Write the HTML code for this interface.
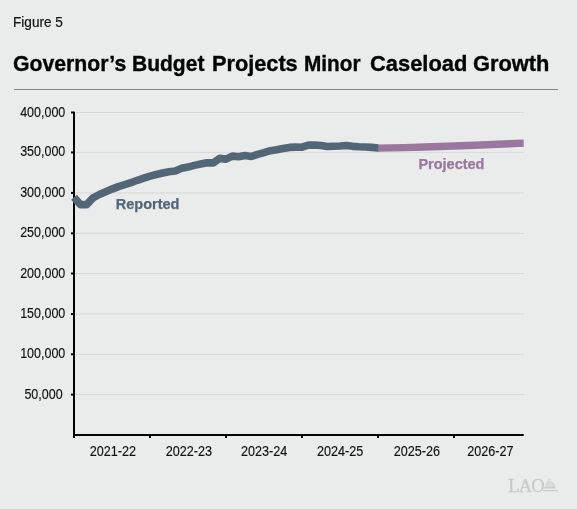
<!DOCTYPE html>
<html><head><meta charset="utf-8"><style>
html,body{margin:0;padding:0;}
body{width:577px;height:509px;background:#eaecec;position:relative;overflow:hidden;font-family:"Liberation Sans",sans-serif;}
.wrap{position:absolute;left:0;top:0;width:577px;height:509px;will-change:transform;}
.fig{position:absolute;left:13px;top:14px;font-size:14px;color:#111;transform-origin:0 0;transform:scaleX(0.972);-webkit-text-stroke:0.2px #111;}
.title{position:absolute;top:51px;font-size:22px;font-weight:bold;color:#000;white-space:nowrap;transform-origin:0 0;-webkit-text-stroke:0.35px #000;}
.rule{position:absolute;left:14px;top:89px;width:544px;height:1px;background:#858685;}
svg{position:absolute;left:0;top:0;}
svg text{font-family:"Liberation Sans",sans-serif;font-size:13.8px;fill:#111;stroke:#111;stroke-width:0.15px;}
</style></head><body>
<div class="wrap"><div class="fig">Figure 5</div>
<div class="title" style="left:12.85px;transform:scaleX(0.9646)">Governor’s</div><div class="title" style="left:131.85px;transform:scaleX(0.9558)">Budget</div><div class="title" style="left:212.45px;transform:scaleX(0.9870)">Projects</div><div class="title" style="left:304.45px;transform:scaleX(0.9440)">Minor</div><div class="title" style="left:369.95px;transform:scaleX(0.9949)">Caseload</div><div class="title" style="left:473.45px;transform:scaleX(0.9919)">Growth</div><div class="rule"></div>
<svg width="577" height="509" viewBox="0 0 577 509">
<line x1="75" y1="394.60" x2="524" y2="394.60" stroke="#d6d8d9" stroke-width="1"/>
<line x1="71" y1="394.60" x2="74" y2="394.60" stroke="#000" stroke-width="2"/>
<text transform="translate(62.6,398.60) scale(0.905,1)" text-anchor="end">50,000</text>
<line x1="75" y1="354.30" x2="524" y2="354.30" stroke="#d6d8d9" stroke-width="1"/>
<line x1="71" y1="354.30" x2="74" y2="354.30" stroke="#000" stroke-width="2"/>
<text transform="translate(65.3,358.30) scale(0.905,1)" text-anchor="end">100,000</text>
<line x1="75" y1="314.00" x2="524" y2="314.00" stroke="#d6d8d9" stroke-width="1"/>
<line x1="71" y1="314.00" x2="74" y2="314.00" stroke="#000" stroke-width="2"/>
<text transform="translate(65.3,318.00) scale(0.905,1)" text-anchor="end">150,000</text>
<line x1="75" y1="273.50" x2="524" y2="273.50" stroke="#d6d8d9" stroke-width="1"/>
<line x1="71" y1="273.50" x2="74" y2="273.50" stroke="#000" stroke-width="2"/>
<text transform="translate(65.3,277.50) scale(0.905,1)" text-anchor="end">200,000</text>
<line x1="75" y1="233.35" x2="524" y2="233.35" stroke="#d6d8d9" stroke-width="1"/>
<line x1="71" y1="233.35" x2="74" y2="233.35" stroke="#000" stroke-width="2"/>
<text transform="translate(65.3,237.35) scale(0.905,1)" text-anchor="end">250,000</text>
<line x1="75" y1="192.90" x2="524" y2="192.90" stroke="#d6d8d9" stroke-width="1"/>
<line x1="71" y1="192.90" x2="74" y2="192.90" stroke="#000" stroke-width="2"/>
<text transform="translate(65.3,196.90) scale(0.905,1)" text-anchor="end">300,000</text>
<line x1="75" y1="152.40" x2="524" y2="152.40" stroke="#d6d8d9" stroke-width="1"/>
<line x1="71" y1="152.40" x2="74" y2="152.40" stroke="#000" stroke-width="2"/>
<text transform="translate(65.3,156.40) scale(0.905,1)" text-anchor="end">350,000</text>
<line x1="75" y1="112.50" x2="524" y2="112.50" stroke="#d6d8d9" stroke-width="1"/>
<line x1="71" y1="112.50" x2="74" y2="112.50" stroke="#000" stroke-width="2"/>
<text transform="translate(65.3,116.50) scale(0.905,1)" text-anchor="end">400,000</text>


<polyline points="378,148.1 405,147.6 425,147.0 475,145.2 523.7,143.1" fill="none" stroke="#99779e" stroke-width="7.4" stroke-linecap="butt" stroke-linejoin="round"/>
<line x1="74" y1="111.8" x2="74" y2="438" stroke="#000" stroke-width="2"/>
<line x1="73" y1="435" x2="523.7" y2="435" stroke="#000" stroke-width="2"/>
<clipPath id="cb"><rect x="0" y="0" width="378.2" height="509"/></clipPath><polyline clip-path="url(#cb)" points="74.00,197.30 80.33,204.60 86.67,204.60 93.00,197.80 99.34,194.50 105.67,191.80 112.00,189.10 118.34,186.60 124.67,184.60 131.00,182.60 137.34,180.30 143.67,178.20 150.01,176.20 156.34,174.50 162.67,173.00 169.01,171.80 175.34,171.00 181.67,168.30 188.01,167.10 194.34,165.40 200.68,164.00 207.01,162.80 213.34,162.90 219.68,158.40 226.01,159.10 232.35,156.10 238.68,156.80 245.01,155.60 251.35,156.50 257.68,154.30 264.01,152.60 270.35,150.70 276.68,149.80 283.02,148.60 289.35,147.40 295.68,147.10 302.02,147.20 308.35,145.10 314.68,145.00 321.02,145.50 327.35,146.50 333.69,146.25 340.02,146.00 346.35,145.50 352.69,146.35 359.02,146.80 365.35,147.00 371.69,147.40 378.02,148.00 386.02,148.30" fill="none" stroke="#536677" stroke-width="7.6" stroke-linejoin="round" stroke-linecap="butt"/>
<line x1="150.01" y1="435" x2="150.01" y2="438" stroke="#000" stroke-width="2"/>
<line x1="226.01" y1="435" x2="226.01" y2="438" stroke="#000" stroke-width="2"/>
<line x1="302.02" y1="435" x2="302.02" y2="438" stroke="#000" stroke-width="2"/>
<line x1="378.02" y1="435" x2="378.02" y2="438" stroke="#000" stroke-width="2"/>
<line x1="454.03" y1="435" x2="454.03" y2="438" stroke="#000" stroke-width="2"/>

<text transform="translate(112.95,456) scale(0.915,1)" text-anchor="middle">2021-22</text>
<text transform="translate(188.85,456) scale(0.915,1)" text-anchor="middle">2022-23</text>
<text transform="translate(264.05,456) scale(0.915,1)" text-anchor="middle">2023-24</text>
<text transform="translate(340.05,456) scale(0.915,1)" text-anchor="middle">2024-25</text>
<text transform="translate(416.8,456) scale(0.915,1)" text-anchor="middle">2025-26</text>
<text transform="translate(490.35,456) scale(0.915,1)" text-anchor="middle">2026-27</text>

<g fill="none" stroke="#c8c9c8" stroke-width="1">
<path d="M545.6,487.3 Q546.3,481.8 549.6,481.4 Q553.6,481.8 554.8,487.3 Z" fill="#d9dad9" stroke="#cbcccb"/>
<path d="M544.2,487.8 L555.4,487.8" stroke-width="1.4"/>
<path d="M543.0,490.6 L556.0,490.6 Q557.2,490.6 558.0,491.4" stroke-width="1.2"/>
<path d="M548.0,481.2 Q548.4,478.6 549.6,478.6 Q550.8,478.8 550.6,480.2" />
</g>
<text x="508.3" y="491.6" style="font-family:'Liberation Serif',serif;font-size:18.5px;fill:#c8c9c8;letter-spacing:-0.9px;stroke:#c8c9c8;stroke-width:0.3px">LAO</text>
<text x="115.8" y="208.7" style="font-size:14.5px;font-weight:bold;fill:#536677;stroke:#536677;stroke-width:0.25px">Reported</text>
<text x="418.4" y="168.7" style="font-size:14.5px;font-weight:bold;fill:#99779e;stroke:#99779e;stroke-width:0.25px">Projected</text>
</svg></div>
</body></html>
